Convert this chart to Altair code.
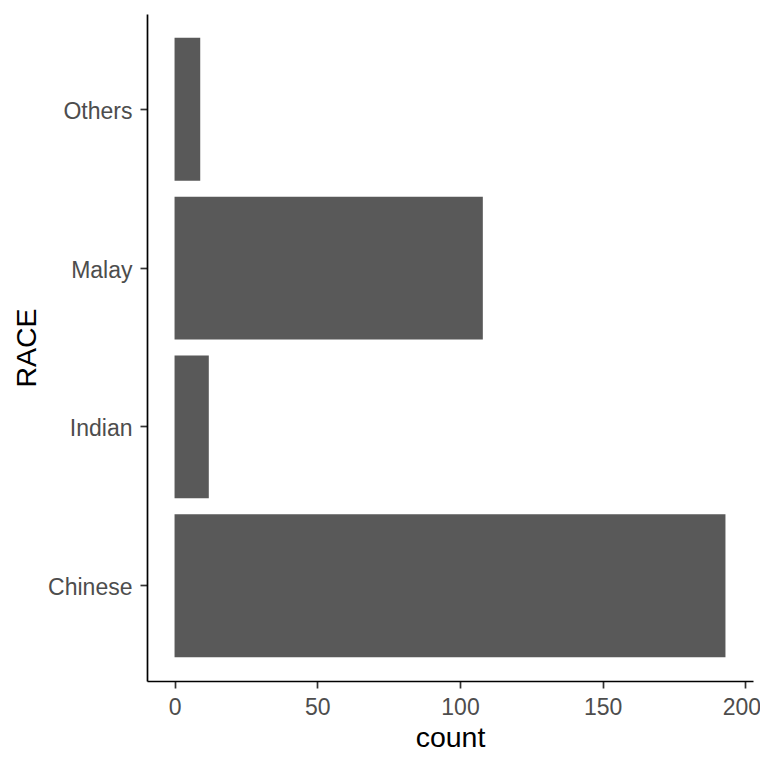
import altair as alt
import pandas as pd

races = ["Chinese", "Indian", "Malay", "Others"]
counts = [193, 12, 108, 9]
x_ticks = [0, 50, 100, 150, 200]

df = pd.DataFrame({"RACE": races, "count": counts})

FONT = "Liberation Sans"

chart = alt.Chart(df).mark_bar(color="#595959").encode(
    x=alt.X("count:Q",
            scale=alt.Scale(domain=[-9.65, 202.65], nice=False, zero=False),
            axis=alt.Axis(values=x_ticks, title="count", grid=False,
                          labelFontSize=23, titleFontSize=28.5,
                          labelOffset=alt.condition("datum.value == 200", alt.value(-4), alt.value(0)),
                          labelPadding=8, titlePadding=4)),
    y=alt.Y("RACE:N",
            sort=["Others", "Malay", "Indian", "Chinese"],
            scale=alt.Scale(paddingInner=0.1, paddingOuter=0.15),
            axis=alt.Axis(title="RACE", grid=False,
                          labelFontSize=23, titleFontSize=28.5,
                          labelOffset=2.5,
                          labelPadding=8, titlePadding=6)),
).properties(
    width=606,
    height=667,
    background="white",
    autosize=alt.AutoSizeParams(type="none"),
    padding={"left": 139, "top": 6, "right": 7, "bottom": 75},
).configure_view(stroke="transparent", strokeWidth=0).configure_axis(
    domainColor="black", domainWidth=1.7,
    tickColor="#333333", tickWidth=1.7, tickSize=7,
    labelColor="#4D4D4D", titleColor="black",
    labelFont=FONT, titleFont=FONT, titleFontWeight="normal",
)

chart.save("out.html", embed_options={"renderer": "svg", "actions": False})
